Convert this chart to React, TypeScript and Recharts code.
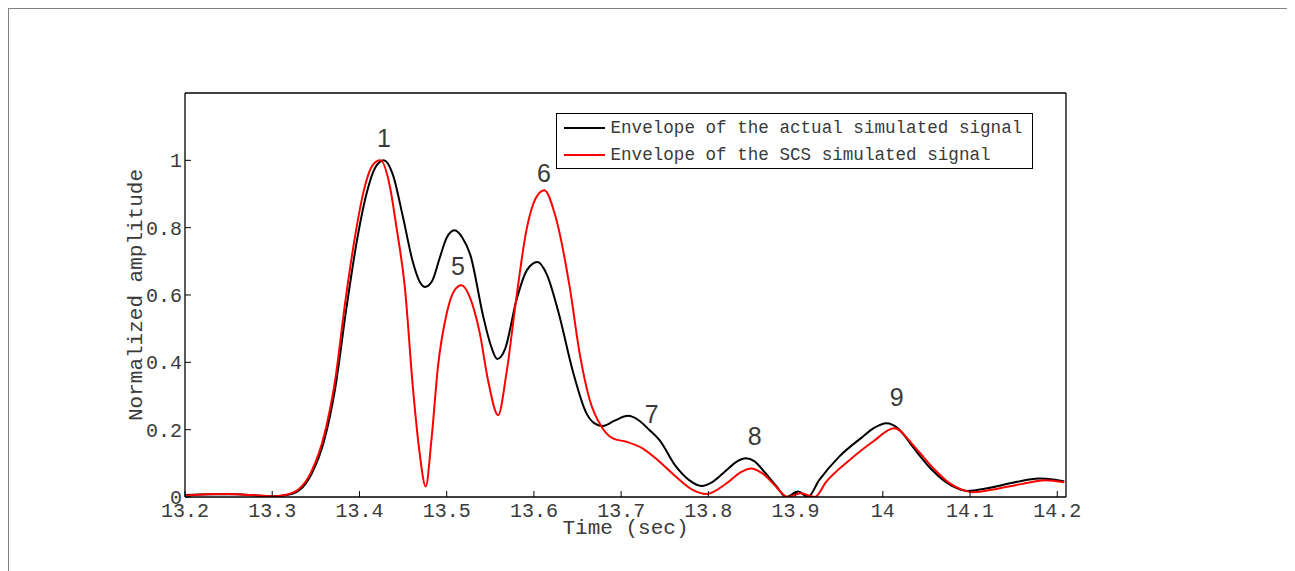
import React from 'react';
import { LineChart, Line, XAxis, YAxis, Legend, ReferenceDot } from 'recharts';

const MONO = '"Liberation Mono", "DejaVu Sans Mono", monospace';
const SANS = '"Liberation Sans", "DejaVu Sans", sans-serif';

const xTicks = [13.2, 13.3, 13.4, 13.5, 13.6, 13.7, 13.8, 13.9, 14, 14.1, 14.2];
const yTicks = [0, 0.2, 0.4, 0.6, 0.8, 1];

const seriesNames = [
  'Envelope of the actual simulated signal',
  'Envelope of the SCS simulated signal',
];
const seriesColors = ['#000000', '#ff0000'];

// actual simulated signal envelope
const actualTime = [
  13.2, 13.23, 13.26, 13.28, 13.3, 13.315, 13.33, 13.345, 13.36, 13.372, 13.385, 13.397, 13.408, 13.418,
  13.428, 13.438, 13.45, 13.461, 13.468, 13.475, 13.483, 13.492, 13.5, 13.509, 13.518, 13.527, 13.542,
  13.55, 13.558, 13.567, 13.58, 13.592, 13.604, 13.615, 13.628, 13.645, 13.66, 13.67, 13.679, 13.692,
  13.708, 13.72, 13.732, 13.744, 13.763, 13.778, 13.792, 13.805, 13.82, 13.833, 13.843, 13.853, 13.865,
  13.878, 13.889, 13.903, 13.914, 13.927, 13.95, 13.977, 13.99, 14.004, 14.018, 14.034, 14.053, 14.072,
  14.088, 14.097, 14.12, 14.15, 14.179, 14.195, 14.208,
];
const actualAmp = [
  0.006, 0.008, 0.008, 0.005, 0.002, 0.005, 0.018, 0.068, 0.172, 0.32, 0.56, 0.76, 0.9, 0.978,
  1.0, 0.96, 0.83, 0.7, 0.645, 0.624, 0.64, 0.71, 0.77, 0.792, 0.77, 0.72, 0.535,
  0.455, 0.41, 0.44, 0.585, 0.674, 0.698, 0.66, 0.55, 0.37, 0.25, 0.218, 0.211, 0.226,
  0.241, 0.228, 0.2, 0.169, 0.09, 0.05, 0.033, 0.045, 0.078, 0.106, 0.115, 0.106, 0.072,
  0.032, 0.0, 0.016, 0.0, 0.05, 0.12, 0.179, 0.205, 0.219, 0.203, 0.15, 0.09, 0.045,
  0.023, 0.018, 0.026, 0.043, 0.055, 0.052, 0.046,
];

// SCS simulated signal envelope
const scsTime = [
  13.2, 13.225, 13.25, 13.275, 13.3, 13.315, 13.33, 13.345, 13.36, 13.372, 13.384, 13.395, 13.405, 13.415,
  13.424, 13.435, 13.4425, 13.452, 13.4615, 13.469, 13.476, 13.4825, 13.49, 13.5, 13.509, 13.517, 13.5265,
  13.538, 13.5474, 13.559, 13.5685, 13.58, 13.5914, 13.6029, 13.612, 13.6238, 13.641, 13.6525, 13.664,
  13.677, 13.6906, 13.706, 13.725, 13.744, 13.763, 13.782, 13.798, 13.8205, 13.836, 13.849, 13.862,
  13.876, 13.891, 13.906, 13.922, 13.935, 13.962, 13.9885, 14.013, 14.038, 14.057, 14.076, 14.0915,
  14.103, 14.13, 14.16, 14.187, 14.208,
];
const scsAmp = [
  0.004, 0.008, 0.009, 0.006, 0.002, 0.006, 0.022, 0.076, 0.188, 0.345, 0.585, 0.775, 0.91, 0.985,
  1.0, 0.921, 0.8, 0.624, 0.318, 0.13, 0.031, 0.169, 0.387, 0.545, 0.614, 0.629, 0.594,
  0.486, 0.347, 0.243, 0.367, 0.594, 0.792, 0.891, 0.911, 0.842, 0.624, 0.426, 0.288,
  0.211, 0.174, 0.164, 0.144, 0.105, 0.06, 0.021, 0.009, 0.04, 0.072, 0.085, 0.07,
  0.035, 0.0, 0.011, 0.0, 0.045, 0.11, 0.164, 0.204, 0.144, 0.088, 0.042, 0.021,
  0.014, 0.024, 0.039, 0.05, 0.044,
];

const peakLabels = ['1', '5', '6', '7', '8', '9'];
const peakTime = [13.428, 13.513, 13.6115, 13.735, 13.853, 14.016];
const peakAmp = [1.067, 0.686, 0.962, 0.246, 0.18, 0.297];

const actual = actualTime.map((t, i) => ({ t, v: actualAmp[i] }));
const scs = scsTime.map((t, i) => ({ t, v: scsAmp[i] }));

const renderLegend = () => (
  <div
    style={{
      width: 477,
      height: 56,
      boxSizing: 'border-box',
      border: '1.5px solid #000',
      background: '#fff',
      position: 'relative',
    }}
  >
    {seriesNames.map((name, i) => (
      <div
        key={name}
        style={{ position: 'absolute', left: 6.5, top: 3.5 + i * 27, height: 20, display: 'flex', alignItems: 'center' }}
      >
        <span style={{ display: 'inline-block', width: 41, borderTop: `2px solid ${seriesColors[i]}` }} />
        <span style={{ marginLeft: 6, fontFamily: MONO, fontSize: 17.6, color: '#3a3a3a', whiteSpace: 'nowrap' }}>{name}</span>
      </div>
    ))}
  </div>
);

const yLabel = (p: any) => {
  const vb = p.viewBox;
  const x = vb.x + 16.5;
  const y = vb.y + vb.height / 2;
  return (
    <text x={x} y={y} transform={`rotate(-90 ${x} ${y})`} textAnchor="middle" fontFamily={MONO} fontSize={21} fill="#3a3a3a">
      Normalized amplitude
    </text>
  );
};

const xLabel = (p: any) => {
  const vb = p.viewBox;
  return (
    <text x={vb.x + vb.width / 2} y={vb.y + 37} textAnchor="middle" fontFamily={MONO} fontSize={21} fill="#3a3a3a">
      Time (sec)
    </text>
  );
};

const tickStyle = { fontFamily: MONO, fontSize: 20, fill: '#3a3a3a' };
const axisLine = { stroke: '#000', strokeWidth: 1.3 };
const tickLine = { stroke: '#000', strokeWidth: 1 };

export default function App() {
  return (
    <div style={{ width: 1279, height: 570, border: '1px solid #808080', borderBottom: 'none', position: 'relative' }}>
      <style>{'body{overflow:hidden}'}</style>
      <LineChart width={1279} height={560} margin={{ top: 83, right: 221, left: 116, bottom: 32 }}>
        <XAxis
          dataKey="t"
          type="number"
          domain={[13.2, 14.21]}
          allowDataOverflow
          ticks={xTicks}
          interval={0}
          tickFormatter={(v: number) => String(v)}
          tick={tickStyle}
          tickSize={-6}
          tickMargin={12}
          axisLine={axisLine}
          tickLine={tickLine}
          height={40}
          label={{ content: xLabel }}
        />
        <XAxis
          xAxisId="top"
          orientation="top"
          dataKey="t"
          type="number"
          domain={[13.2, 14.21]}
          allowDataOverflow
          ticks={xTicks}
          interval={0}
          tick={false}
          tickSize={-6}
          axisLine={axisLine}
          tickLine={tickLine}
          height={1}
        />
        <YAxis
          type="number"
          domain={[0, 1.2]}
          allowDataOverflow
          ticks={yTicks}
          interval={0}
          tickFormatter={(v: number) => String(v)}
          tick={tickStyle}
          tickSize={-6}
          tickMargin={9}
          axisLine={axisLine}
          tickLine={tickLine}
          width={60}
          label={{ content: yLabel }}
        />
        <YAxis
          yAxisId="right"
          orientation="right"
          type="number"
          domain={[0, 1.2]}
          allowDataOverflow
          ticks={yTicks}
          interval={0}
          tick={false}
          tickSize={-6}
          axisLine={axisLine}
          tickLine={tickLine}
          width={1}
        />
        <Line
          data={actual}
          dataKey="v"
          name={seriesNames[0]}
          type="monotone"
          stroke={seriesColors[0]}
          strokeWidth={2}
          dot={false}
          activeDot={false}
          isAnimationActive={false}
        />
        <Line
          data={scs}
          dataKey="v"
          name={seriesNames[1]}
          type="monotone"
          stroke={seriesColors[1]}
          strokeWidth={2}
          dot={false}
          activeDot={false}
          isAnimationActive={false}
        />
        {peakLabels.map((lab, i) => (
          <ReferenceDot
            key={lab}
            x={peakTime[i]}
            y={peakAmp[i]}
            r={0}
            fill="none"
            stroke="none"
            label={{ value: lab, position: 'center', fill: '#3a3a3a', fontSize: 25, fontFamily: SANS }}
          />
        ))}
        <Legend
          layout="vertical"
          align="center"
          verticalAlign="middle"
          content={renderLegend}
          wrapperStyle={{ position: 'absolute', left: 547, top: 104, width: 477, height: 56 }}
        />
      </LineChart>
    </div>
  );
}
